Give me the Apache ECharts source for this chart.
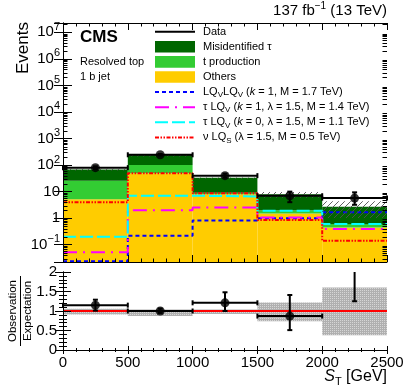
<!DOCTYPE html>
<html><head><meta charset="utf-8">
<script src="https://cdn.jsdelivr.net/npm/echarts@6/dist/echarts.min.js"></script>
<style>html,body{margin:0;padding:0;background:#fff}#c{width:407px;height:392px}</style>
</head><body><div id="c"></div>
<script>
// ---- data ----
const binEdges = [0, 500, 1000, 1500, 2000, 2500];
const xTickLabels = ['0', '500', '1000', '1500', '2000', '2500'];
const others = [5.2, 49, 8.0, 1.5, 0.45];
const tProduction = [20.5, 51, 1.0, 0.5, 0.15];
const misidTau = [43, 144, 24, 6.0, 2.1];
const dataCounts = [80, 244, 40, 7.0, 5.7];
const dataLow = [71, 229, 34, 4.0, 3.2];
const dataHigh = [90, 260, 47, 10.0, 9.4];
const lqvLqv = [0.024, 0.22, 0.81, 1.0, 1.66];
const tauLqvK1 = [0.052, 2.0, 2.5, 1.05, 0.39];
const tauLqvK0 = [0.2, 7.0, 6.6, 1.9, 0.6];
const nuLqs = [4.0, 49, 8.7, 0.85, 0.14];
const ratioValues = [1.15, 1.0, 1.21, 0.87, 2.1];
const ratioLow = [1.01, 0.95, 1.0, 0.51, 1.25];
const ratioHigh = [1.29, 1.06, 1.48, 1.41, 3.0];
const bandLow = [0.91, 0.87, 0.92, 0.74, 0.38];
const bandHigh = [1.06, 1.04, 1.04, 1.22, 1.6];
const yLogMin = -1.65, yLogMax = 7.35;

const FONT = '"Liberation Sans", Arial, Helvetica, sans-serif';

// ---- patterns ----
function hatchCanvas() {
  const c = document.createElement('canvas'); c.width = 6; c.height = 6;
  const g = c.getContext('2d'); g.strokeStyle = 'rgba(80,80,80,0.9)'; g.lineWidth = 1;
  g.beginPath(); g.moveTo(0, 6); g.lineTo(6, 0); g.moveTo(-1, 1); g.lineTo(1, -1); g.moveTo(5, 7); g.lineTo(7, 5); g.stroke();
  return c;
}
function dotCanvas() {
  const c = document.createElement('canvas'); c.width = 2; c.height = 2;
  const g = c.getContext('2d'); g.fillStyle = '#b0b0b0'; g.fillRect(0, 0, 2, 2);
  g.fillStyle = '#d6d6d6'; g.fillRect(0, 0, 1, 1);
  return c;
}
const hatchFill = { image: hatchCanvas(), repeat: 'repeat' };
const dotFill = { image: dotCanvas(), repeat: 'repeat' };

// ---- derived tables ----
const nb = binEdges.length - 1;
const stackItems = [], hatchItems = [], dataItems = [], ratioItems = [], bandItems = [];
for (let i = 0; i < nb; i++) {
  const tot = others[i] + tProduction[i] + misidTau[i];
  stackItems.push([binEdges[i], binEdges[i + 1], others[i], tProduction[i], misidTau[i]]);
  hatchItems.push([binEdges[i], binEdges[i + 1], tot * bandLow[i], tot * bandHigh[i]]);
  dataItems.push([binEdges[i], binEdges[i + 1], dataCounts[i], dataLow[i], dataHigh[i]]);
  ratioItems.push([binEdges[i], binEdges[i + 1], ratioValues[i], ratioLow[i], ratioHigh[i]]);
  bandItems.push([binEdges[i], binEdges[i + 1], bandLow[i], bandHigh[i]]);
}
function stepData(vals) {
  const d = vals.map((v, i) => [binEdges[i], v]);
  d.push([binEdges[nb], vals[nb - 1]]);
  return d;
}
const minorLogTicks = [];
for (let k = -2; k <= 7; k++) for (let m = 2; m <= 9; m++) {
  const v = m * Math.pow(10, k);
  const lv = Math.log10(v);
  if (lv > yLogMin && lv < yLogMax) minorLogTicks.push([0, v]);
}

const YMIN = Math.pow(10, yLogMin), YMAX = Math.pow(10, yLogMax);

function clampY(y, cs) { return Math.max(cs.y, Math.min(cs.y + cs.height, y)); }

function errRender(params, api) {
  const cs = params.coordSys;
  const x0 = api.value(0), x1 = api.value(1), v = api.value(2), lo = api.value(3), hi = api.value(4);
  const xc = (x0 + x1) / 2;
  const pL = api.coord([x0, v]), pR = api.coord([x1, v]);
  const pLo = api.coord([xc, lo]), pHi = api.coord([xc, hi]);
  const st = { stroke: '#000', lineWidth: 2 };
  const ch = [];
  const inside = pL[1] >= cs.y - 0.5 && pL[1] <= cs.y + cs.height + 0.5;
  if (inside) {
    ch.push({ type: 'line', shape: { x1: pL[0], y1: pL[1], x2: pR[0], y2: pR[1] }, style: st });
    ch.push({ type: 'line', shape: { x1: pL[0], y1: pL[1] - 2.5, x2: pL[0], y2: pL[1] + 2.5 }, style: st });
    ch.push({ type: 'line', shape: { x1: pR[0], y1: pR[1] - 2.5, x2: pR[0], y2: pR[1] + 2.5 }, style: st });
  }
  const yTop = clampY(pHi[1], cs), yBot = clampY(pLo[1], cs);
  ch.push({ type: 'line', shape: { x1: pLo[0], y1: yBot, x2: pLo[0], y2: yTop }, style: st });
  if (pHi[1] >= cs.y) ch.push({ type: 'line', shape: { x1: pHi[0] - 2.5, y1: pHi[1], x2: pHi[0] + 2.5, y2: pHi[1] }, style: st });
  if (pLo[1] <= cs.y + cs.height) ch.push({ type: 'line', shape: { x1: pLo[0] - 2.5, y1: pLo[1], x2: pLo[0] + 2.5, y2: pLo[1] }, style: st });
  return { type: 'group', children: ch };
}

const chart = echarts.init(document.getElementById('c'), null, { renderer: 'canvas' });

const blk = { color: '#000', width: 1 };
function xAx(grid, pos, showLabel, tickLen, minorLen) {
  return {
    gridIndex: grid, type: 'value', min: 0, max: 2500, interval: 500, position: pos, z: 10,
    axisLine: { show: true, lineStyle: blk },
    axisTick: { show: true, inside: true, length: tickLen, lineStyle: blk },
    minorTick: { show: true, splitNumber: 5, length: minorLen, lineStyle: blk },
    splitLine: { show: false },
    axisLabel: {
      show: showLabel, color: '#000', fontFamily: FONT, fontSize: 15, margin: 5,
      formatter: v => { const i = binEdges.indexOf(v); return i >= 0 ? xTickLabels[i] : ''; }
    }
  };
}
function logLabel(v) {
  const lv = Math.log10(v), e = Math.round(lv);
  if (Math.abs(lv - e) > 1e-6) return '';
  if (e === 0) return '{b|1}';
  if (e === 1) return '{b|10}';
  return '{b|10}{s|' + (e < 0 ? '\u2212' + (-e) : e) + '}';
}

const option = {
  animation: false,
  backgroundColor: '#fff',
  grid: [
    { left: 63, top: 23, width: 324, height: 239 },
    { left: 63, top: 272, width: 324, height: 78 }
  ],
  xAxis: [
    xAx(0, 'bottom', false, 7, 3.5),
    xAx(0, 'top', false, 7, 3.5),
    xAx(1, 'bottom', true, 4, 2),
    xAx(1, 'top', false, 4, 2)
  ],
  yAxis: [
    {
      gridIndex: 0, type: 'log', logBase: 10, min: YMIN, max: YMAX, position: 'left', z: 10,
      axisLine: { show: true, lineStyle: blk },
      axisTick: { show: true, inside: true, length: 9, lineStyle: blk },
      splitLine: { show: false },
      axisLabel: {
        show: true, margin: 3, formatter: logLabel,
        rich: {
          b: { fontFamily: FONT, fontSize: 15, color: '#000', lineHeight: 22 },
          s: { fontFamily: FONT, fontSize: 11, color: '#000', lineHeight: 10, verticalAlign: 'top' }
        }
      }
    },
    {
      gridIndex: 0, type: 'log', logBase: 10, min: YMIN, max: YMAX, position: 'right', z: 10,
      axisLine: { show: true, lineStyle: blk },
      axisTick: { show: true, inside: true, length: 9, lineStyle: blk },
      splitLine: { show: false }, axisLabel: { show: false }
    },
    {
      gridIndex: 1, type: 'value', min: 0, max: 2, interval: 0.5, position: 'left', z: 10,
      axisLine: { show: true, lineStyle: blk },
      axisTick: { show: true, inside: true, length: 8, lineStyle: blk },
      minorTick: { show: true, splitNumber: 5, length: 4, lineStyle: blk },
      splitLine: { show: false },
      axisLabel: { show: true, color: '#000', fontFamily: FONT, fontSize: 15, margin: 6 }
    },
    {
      gridIndex: 1, type: 'value', min: 0, max: 2, interval: 0.5, position: 'right', z: 10,
      axisLine: { show: true, lineStyle: blk },
      axisTick: { show: true, inside: true, length: 8, lineStyle: blk },
      minorTick: { show: true, splitNumber: 5, length: 4, lineStyle: blk },
      splitLine: { show: false }, axisLabel: { show: false }
    }
  ],
  series: [
    { // stacked backgrounds
      type: 'custom', xAxisIndex: 0, yAxisIndex: 0, z: 1, silent: true,
      data: stackItems, encode: { x: [0, 1], y: [2] },
      renderItem(params, api) {
        const cs = params.coordSys;
        const x0 = api.value(0), x1 = api.value(1);
        const o = api.value(2), t = api.value(3), m = api.value(4);
        const levels = [o, o + t, o + t + m];
        const colors = ['#ffcc00', '#33cc33', '#006600'];
        const left = api.coord([x0, 1])[0], right = api.coord([x1, 1])[0];
        let prev = cs.y + cs.height;
        const ch = [];
        levels.forEach((lv, k) => {
          const y = api.coord([x0, lv])[1];
          ch.push({ type: 'rect', shape: { x: left, y: y, width: right - left, height: prev - y }, style: { fill: colors[k] } });
          prev = y;
        });
        return { type: 'group', children: ch };
      }
    },
    {
      type: 'line', name: 'LQvLQv', xAxisIndex: 0, yAxisIndex: 0, z: 3, step: 'end', showSymbol: false, silent: true,
      data: stepData(lqvLqv), lineStyle: { color: '#0000ff', width: 2, type: [4, 3] }
    },
    {
      type: 'line', name: 'tauLQv k1', xAxisIndex: 0, yAxisIndex: 0, z: 3, step: 'end', showSymbol: false, silent: true,
      data: stepData(tauLqvK1), lineStyle: { color: '#ff00ff', width: 2, type: [14, 6, 2, 6] }
    },
    {
      type: 'line', name: 'tauLQv k0', xAxisIndex: 0, yAxisIndex: 0, z: 3, step: 'end', showSymbol: false, silent: true,
      data: stepData(tauLqvK0), lineStyle: { color: '#00ffff', width: 2, type: [13, 4] }
    },
    {
      type: 'line', name: 'nuLQs', xAxisIndex: 0, yAxisIndex: 0, z: 3, step: 'end', showSymbol: false, silent: true,
      data: stepData(nuLqs), lineStyle: { color: '#ff0000', width: 2, type: [4, 1.5, 1.5, 1.5, 1.5, 1.5] }
    },
    { // uncertainty hatch
      type: 'custom', xAxisIndex: 0, yAxisIndex: 0, z: 4, silent: true,
      data: hatchItems, encode: { x: [0, 1], y: [2, 3] },
      renderItem(params, api) {
        const p0 = api.coord([api.value(0), api.value(3)]);
        const p1 = api.coord([api.value(1), api.value(2)]);
        return { type: 'rect', shape: { x: p0[0], y: p0[1], width: p1[0] - p0[0], height: p1[1] - p0[1] }, style: { fill: hatchFill } };
      }
    },
    { // minor log ticks (both sides)
      type: 'custom', xAxisIndex: 0, yAxisIndex: 0, z: 11, silent: true,
      data: minorLogTicks, encode: { y: [1] },
      renderItem(params, api) {
        const cs = params.coordSys;
        const y = Math.round(api.coord([0, api.value(1)])[1]) + 0.5;
        const st = { stroke: '#000', lineWidth: 1 };
        return { type: 'group', children: [
          { type: 'line', shape: { x1: cs.x, y1: y, x2: cs.x + 4.5, y2: y }, style: st },
          { type: 'line', shape: { x1: cs.x + cs.width - 4.5, y1: y, x2: cs.x + cs.width, y2: y }, style: st }
        ] };
      }
    },
    { // data error bars
      type: 'custom', xAxisIndex: 0, yAxisIndex: 0, z: 5, silent: true,
      data: dataItems, encode: { x: [0, 1], y: [2, 3, 4] }, renderItem: errRender
    },
    {
      type: 'scatter', xAxisIndex: 0, yAxisIndex: 0, z: 6, silent: true, symbol: 'circle', symbolSize: 9,
      itemStyle: { color: '#000' },
      data: dataCounts.map((v, i) => [(binEdges[i] + binEdges[i + 1]) / 2, v])
    },
    // ---- ratio panel ----
    {
      type: 'custom', xAxisIndex: 2, yAxisIndex: 2, z: 1, silent: true,
      data: bandItems, encode: { x: [0, 1], y: [2, 3] },
      renderItem(params, api) {
        const p0 = api.coord([api.value(0), api.value(3)]);
        const p1 = api.coord([api.value(1), api.value(2)]);
        return { type: 'rect', shape: { x: p0[0], y: p0[1], width: p1[0] - p0[0], height: p1[1] - p0[1] }, style: { fill: dotFill } };
      }
    },
    {
      type: 'line', xAxisIndex: 2, yAxisIndex: 2, z: 2, showSymbol: false, silent: true,
      data: [[0, 1], [2500, 1]], lineStyle: { color: '#ff0000', width: 2 }
    },
    {
      type: 'custom', xAxisIndex: 2, yAxisIndex: 2, z: 5, silent: true,
      data: ratioItems, encode: { x: [0, 1], y: [2] }, renderItem: errRender
    },
    {
      type: 'scatter', xAxisIndex: 2, yAxisIndex: 2, z: 6, silent: true, clip: true, symbol: 'circle', symbolSize: 9,
      itemStyle: { color: '#000' },
      data: ratioValues.map((v, i) => [(binEdges[i] + binEdges[i + 1]) / 2, v])
    }
  ],
  graphic: []
};

// ---- texts & legend ----
const g = option.graphic;
const txt = (x, y, text, opts) => g.push(Object.assign({ type: 'text', x, y, z: 100, silent: true, style: Object.assign({ text, fill: '#000', font: '11px ' + FONT }, opts || {}) }));

// top-right luminosity label
g.push({ type: 'text', x: 387, y: 11, z: 100, silent: true, style: {
  text: '{n|137 fb}{s|\u22121}{n| (13 TeV)}', align: 'right', verticalAlign: 'middle',
  rich: { n: { fontFamily: FONT, fontSize: 15, lineHeight: 20, fill: '#000' }, s: { fontFamily: FONT, fontSize: 10, lineHeight: 10, verticalAlign: 'top', fill: '#000' } }
} });
// CMS
txt(80, 37.5, 'CMS', { font: 'bold 17px ' + FONT, verticalAlign: 'middle' });
txt(80, 62, 'Resolved top', { verticalAlign: 'middle' });
txt(80, 76.5, '1 b jet', { verticalAlign: 'middle' });

// y-axis title
g.push({ type: 'text', x: 23, y: 22, rotation: Math.PI / 2, z: 100, silent: true,
  style: { text: 'Events', font: '17px ' + FONT, fill: '#000', align: 'right', verticalAlign: 'middle' } });
// ratio title (fraction)
g.push({ type: 'text', x: 13, y: 311, rotation: Math.PI / 2, z: 100, silent: true,
  style: { text: 'Observation', font: '11.5px ' + FONT, fill: '#000', align: 'center', verticalAlign: 'middle' } });
g.push({ type: 'line', z: 100, silent: true, shape: { x1: 20.5, y1: 276, x2: 20.5, y2: 346 }, style: { stroke: '#000', lineWidth: 1 } });
g.push({ type: 'text', x: 28, y: 311, rotation: Math.PI / 2, z: 100, silent: true,
  style: { text: 'Expectation', font: '11.5px ' + FONT, fill: '#000', align: 'center', verticalAlign: 'middle' } });
// x-axis title
g.push({ type: 'text', x: 387, y: 377, z: 100, silent: true, style: {
  text: '{i|S}{s|T}{n| [GeV]}', align: 'right', verticalAlign: 'middle',
  rich: { i: { fontFamily: FONT, fontStyle: 'italic', fontSize: 16, lineHeight: 20, fill: '#000' },
          n: { fontFamily: FONT, fontSize: 16, lineHeight: 20, fill: '#000' },
          s: { fontFamily: FONT, fontSize: 11, lineHeight: 11, verticalAlign: 'bottom', fill: '#000' } }
} });

// legend
const legRich = {
  n: { fontFamily: FONT, fontSize: 11, lineHeight: 14, fill: '#000' },
  i: { fontFamily: FONT, fontSize: 11, fontStyle: 'italic', lineHeight: 14, fill: '#000' },
  s: { fontFamily: FONT, fontSize: 8, lineHeight: 8, verticalAlign: 'bottom', fill: '#000' }
};
const legendRows = [
  { kind: 'line', color: '#000', dash: null, text: '{n|Data}' },
  { kind: 'box', color: '#006600', text: '{n|Misidentified \u03c4}' },
  { kind: 'box', color: '#33cc33', text: '{n|t production}' },
  { kind: 'box', color: '#ffcc00', text: '{n|Others}' },
  { kind: 'line', color: '#0000ff', dash: [4, 3], text: '{n|LQ}{s|V}{n|LQ}{s|V}{n| (}{i|k}{n| = 1, M = 1.7 TeV)}' },
  { kind: 'line', color: '#ff00ff', dash: [14, 6, 2, 6], text: '{n|\u03c4 LQ}{s|V}{n| (}{i|k}{n| = 1, \u03bb = 1.5, M = 1.4 TeV)}' },
  { kind: 'line', color: '#00ffff', dash: [13, 4], text: '{n|\u03c4 LQ}{s|V}{n| (}{i|k}{n| = 0, \u03bb = 1.5, M = 1.1 TeV)}' },
  { kind: 'line', color: '#ff0000', dash: [4, 1.5, 1.5, 1.5, 1.5, 1.5], text: '{n|\u03bd LQ}{s|S}{n| (\u03bb = 1.5, M = 0.5 TeV)}' }
];
legendRows.forEach((r, k) => {
  const y = 31.7 + k * 15.1;
  if (r.kind === 'box') {
    g.push({ type: 'rect', z: 100, silent: true, shape: { x: 155, y: y - 5.8, width: 40, height: 11.6 }, style: { fill: r.color } });
  } else {
    g.push({ type: 'line', z: 100, silent: true, shape: { x1: 155, y1: y, x2: 195, y2: y },
      style: { stroke: r.color, lineWidth: 2, lineDash: r.dash || null } });
  }
  g.push({ type: 'text', x: 203, y: y, z: 100, silent: true, style: { text: r.text, rich: legRich, verticalAlign: 'middle', align: 'left' } });
});

chart.setOption(option);
</script>
</body></html>
